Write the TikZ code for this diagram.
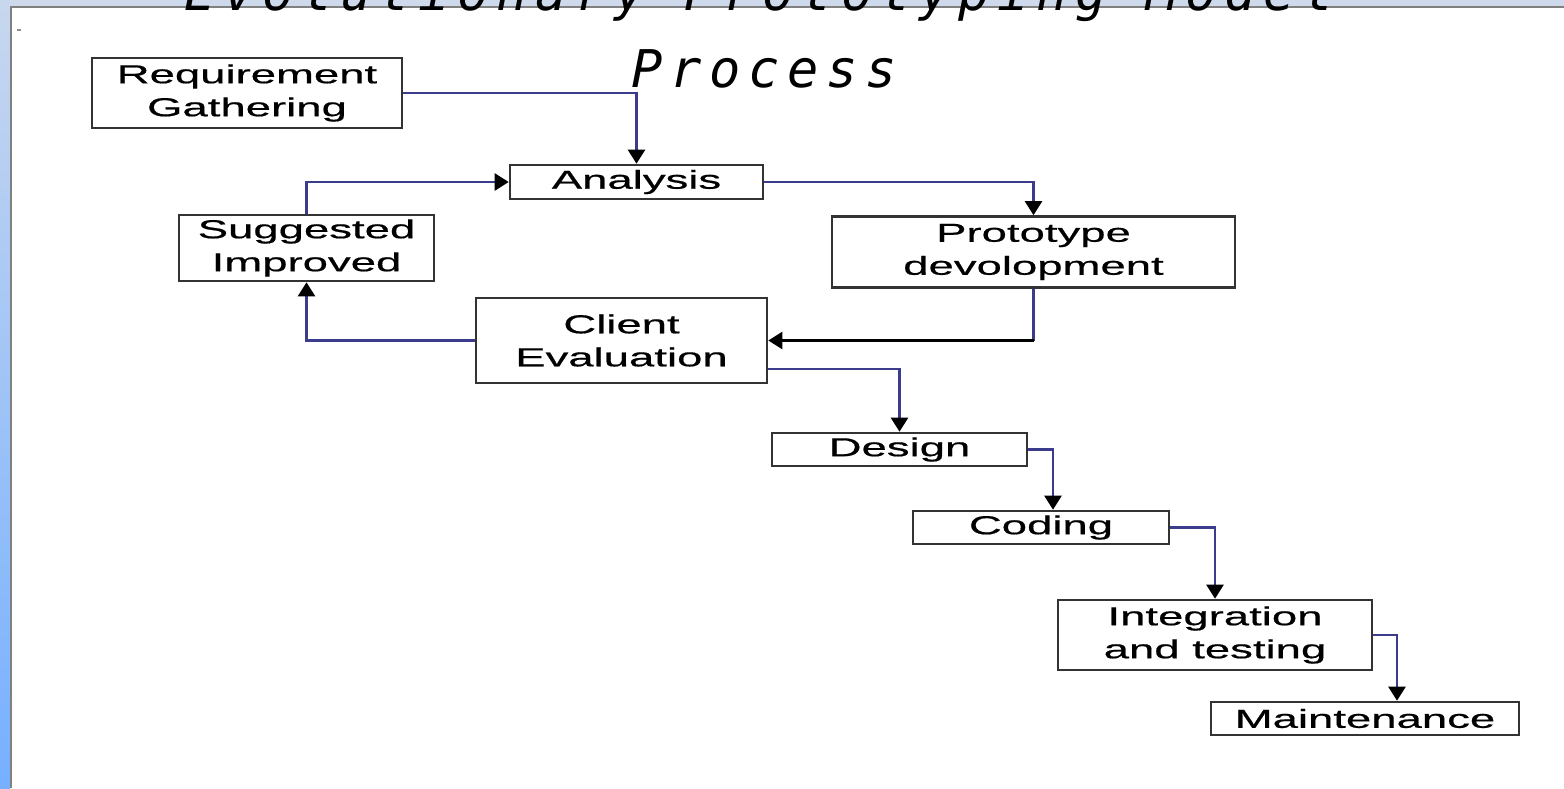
\documentclass[tikz,border=0pt]{standalone}
\usepackage{fontspec}
\setmainfont{Liberation Sans}[FakeStretch=1.75,FakeBold=0.6]
\newfontfamily\titlefont{DejaVu Sans Mono Oblique}[LetterSpace=15]
\usetikzlibrary{arrows.meta}

\definecolor{linkblue}{RGB}{60,60,140}
\definecolor{bandblue}{RGB}{206,218,236}
\definecolor{stripTop}{RGB}{200,215,238}
\definecolor{stripBottom}{RGB}{118,176,255}

\begin{document}
\begin{tikzpicture}[x=1pt,y=-1pt,->,>={Triangle[width=17pt,length=14pt,color=black]},
        box/.style={draw=black!80,line width=2.6pt,inner sep=0pt,align=center,
            font=\fontsize{26}{33}\selectfont},
        link/.style={every edge/.append style={draw=linkblue,line width=2.4pt}},
        hv/.style={to path={-| (\tikztotarget)}},
        vh/.style={to path={|- (\tikztotarget)}}]
                \useasboundingbox (0,0) rectangle (1564,788);
                \clip (0,0) rectangle (1564,788);
                % page frame
                \fill[white] (0,0) rectangle (1564,788);
                \fill[bandblue] (0,0) rectangle (1564,6);
                \shade[top color=stripTop,bottom color=stripBottom] (0,0) rectangle (10,788);
                \draw[-,gray,line width=2.5pt] (11,788) -- (11,7) -- (1564,7);
                \node[style={},inner sep=0pt](dash)at(19, 31){\fontsize{9}{9}\selectfont -};

                \node[anchor=base,inner sep=0pt,font=\titlefont\fontsize{52}{52}\selectfont](title1)at(759, 10){Evolutionary Prototyping Model};
                \node[anchor=base,inner sep=0pt,font=\titlefont\fontsize{52}{52}\selectfont](title2)at(764, 87){Process};

                \node[box,minimum width=310,minimum height=70](Req)at(247, 93){Requirement\\Gathering};
                \node[box,minimum width=253,minimum height=34](Analysis)at(636.5, 182){Analysis};
                \node[box,minimum width=255,minimum height=66](Sugg)at(306.5, 248){Suggested\\Improved};
                \node[box,minimum width=403,minimum height=71](Proto)at(1033.5, 252){Prototype\\devolopment};
                \node[box,minimum width=291,minimum height=85](Client)at(621.5, 340.5){Client\\Evaluation};
                \node[box,minimum width=255,minimum height=33](Design)at(899.5, 449.5){Design};
                \node[box,minimum width=256,minimum height=33](Coding)at(1041, 527.5){Coding};
                \node[box,minimum width=314,minimum height=70](Integ)at(1215, 635){Integration\\and testing};
                \node[box,minimum width=308,minimum height=33](Maint)at(1365, 718.5){Maintenance};

                \coordinate (bend) at (Proto.south |- Client.east);

                \path[link]
                (Req.east) edge[hv] (Analysis.north)
                (Analysis.east) edge[hv] (Proto.north)
                (Proto.south) edge[-] (bend)
                (bend) edge[draw=black] (Client.east)
                (Client.west) edge[hv] (Sugg.south)
                (Sugg.north) edge[vh] (Analysis.west);
                \path[link]
                ([yshift=-28.5pt]Client.east) edge[hv] (Design.north)
                (Design.east) edge[hv] ([xshift=12pt]Coding.north)
                (Coding.east) edge[hv] (Integ.north)
                (Integ.east) edge[hv] ([xshift=32pt]Maint.north);
\end{tikzpicture}
\end{document}
